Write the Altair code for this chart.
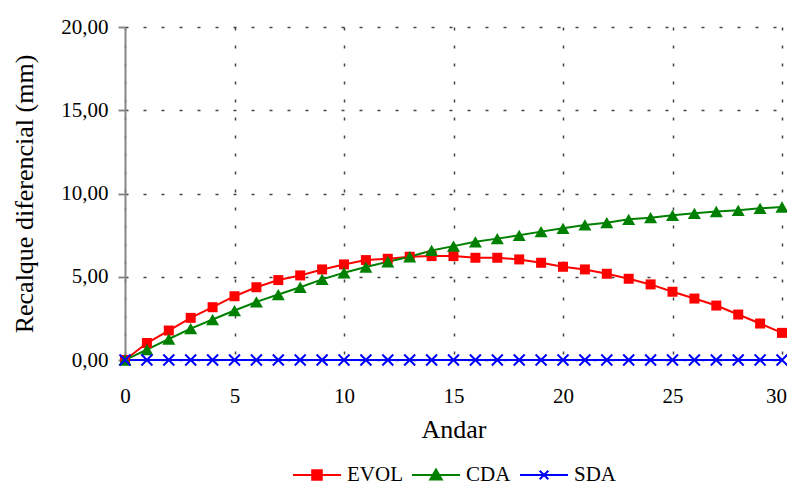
import altair as alt
import pandas as pd

andar = list(range(0, 31))
evol = [0.00, 1.02, 1.77, 2.53, 3.17, 3.83, 4.37, 4.80, 5.08, 5.44, 5.74, 6.00, 6.08, 6.20, 6.24,
        6.24, 6.14, 6.14, 6.04, 5.84, 5.60, 5.44, 5.18, 4.88, 4.54, 4.10, 3.69, 3.27, 2.73, 2.19, 1.63]
cda = [0.00, 0.62, 1.26, 1.88, 2.43, 2.97, 3.49, 3.93, 4.37, 4.84, 5.24, 5.58, 5.90, 6.20, 6.58,
       6.84, 7.10, 7.29, 7.49, 7.71, 7.91, 8.11, 8.25, 8.45, 8.55, 8.69, 8.81, 8.92, 8.99, 9.11, 9.19]
sda = [0.0] * 31

series = ["EVOL", "CDA", "SDA"]
colors = ["#ff0000", "#008000", "#0000ff"]

rows = []
for name, vals in zip(series, [evol, cda, sda]):
    for a, v in zip(andar, vals):
        rows.append({"Andar": a, "Recalque": v, "Serie": name})
df = pd.DataFrame(rows)

FONT = "Liberation Serif, Times New Roman, serif"
xenc = alt.X("Andar:Q", scale=alt.Scale(domain=[0, 30], nice=False),
             axis=alt.Axis(values=[0, 5, 10, 15, 20, 25, 30], title="Andar",
                           domain=False, ticks=False, labelPadding=25, labelFlush=False,
                           labelOffset={"condition": {"test": "datum.value == 30", "value": -6}, "value": 0},
                           labelFont=FONT, titleFont=FONT, labelFontSize=21, titleFontSize=26,
                           grid=True, titlePadding=10))
yenc = alt.Y("Recalque:Q", scale=alt.Scale(domain=[0, 20], nice=False),
             axis=alt.Axis(values=[0, 5, 10, 15, 20], title="Recalque diferencial (mm)",
                           labelExpr="replace(format(datum.value, '.2f'), '.', ',')",
                           labelFont=FONT, titleFont=FONT, labelFontSize=21, titleFontSize=26,
                           tickSize=7, labelPadding=10, grid=True, titlePadding=23,
                           labelFlush=False))

base = alt.Chart(df)

lines = base.mark_line(strokeWidth=2).encode(
    x=xenc, y=yenc,
    color=alt.Color("Serie:N", scale=alt.Scale(domain=series, range=colors), legend=None),
    detail="Serie:N",
)

sq = base.transform_filter(alt.datum.Serie == "EVOL").mark_point(
    shape="square", filled=True, size=100, color="#ff0000", opacity=1).encode(x="Andar:Q", y="Recalque:Q")
tri = base.transform_filter(alt.datum.Serie == "CDA").mark_point(
    shape="triangle-up", filled=True, size=170, color="#008000", opacity=1).encode(x="Andar:Q", y="Recalque:Q")
xs = base.transform_filter(alt.datum.Serie == "SDA").mark_point(
    shape="M-1,-1L1,1M-1,1L1,-1", filled=False, size=120, color="#0000ff", strokeWidth=2,
    opacity=1).encode(x="Andar:Q", y="Recalque:Q")

legend_shapes = [
    "M-1,0H1M-0.2,-0.2H0.2V0.2H-0.2Z",
    "M-1,0H1M-0.24,0.19L0,-0.23L0.24,0.19Z",
    "M-1,0H1M-0.18,-0.18L0.18,0.18M-0.18,0.18L0.18,-0.18",
]


def make_legend():
    return alt.Legend(title=None, orient="none", legendX=167, legendY=423,
                      direction="horizontal", symbolSize=2304, symbolOpacity=1,
                      symbolStrokeWidth=2, labelFontSize=21, labelFont=FONT,
                      labelColor="#000000", labelOffset=5, columnPadding=5, padding=0)


leg = base.mark_point(opacity=0, strokeWidth=2).encode(
    x="Andar:Q", y="Recalque:Q",
    fill=alt.Fill("Serie:N", scale=alt.Scale(domain=series, range=["#ff0000", "#008000", "transparent"]),
                  legend=make_legend()),
    stroke=alt.Stroke("Serie:N", scale=alt.Scale(domain=series, range=colors), legend=make_legend()),
    shape=alt.Shape("Serie:N", scale=alt.Scale(domain=series, range=legend_shapes), legend=make_legend()),
)

chart = alt.layer(leg, lines, sq, tri, xs).properties(
    width=657, height=333,
    autosize=alt.AutoSizeParams(type="none"),
    padding={"left": 117, "top": 19, "right": 5, "bottom": 127},
).configure(font=FONT).configure_view(stroke=None).configure_axis(
    labelFont=FONT, titleFont=FONT, labelFontSize=21, titleFontSize=26,
    labelColor="#000000", titleColor="#000000", titleFontWeight="normal",
    gridColor="#444444", gridDash=[3, 15], gridWidth=1.5,
    domainColor="#888888", domainWidth=2, tickColor="#888888", tickWidth=2,
).configure_legend(labelFont=FONT)

chart.save("out.html", embed_options={"renderer": "svg", "actions": False})
